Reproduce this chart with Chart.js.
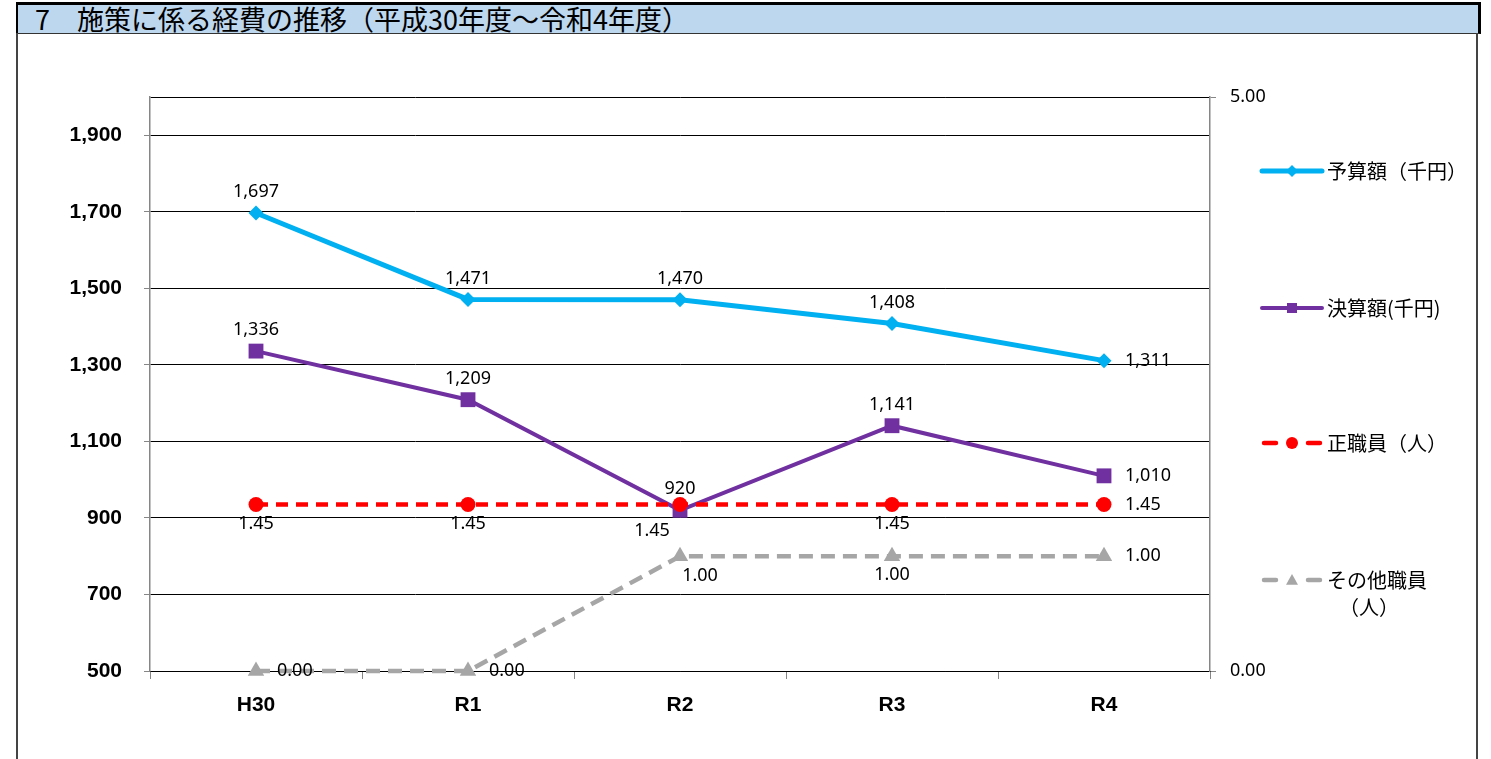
<!DOCTYPE html>
<html lang="ja">
<head>
<meta charset="utf-8">
<title>施策に係る経費の推移</title>
<script src="https://cdn.jsdelivr.net/npm/chart.js@4.4.1/dist/chart.umd.min.js"></script>
<style>
  html, body { margin: 0; padding: 0; background: #fff; }
  body { width: 1491px; height: 759px; position: relative; overflow: hidden; }
  .title {
    position: absolute; left: 16px; top: 2px; width: 1465px; height: 32px;
    box-sizing: border-box; background: #bdd7ee;
    border-top: 3px solid #000; border-right: 3px solid #000;
    border-left: 2px solid #000; border-bottom: 1px solid #333;
    font: 400 27px "Noto Sans CJK JP", sans-serif; line-height: 27px;
    padding-left: 17px; color: #000; white-space: nowrap;
  }
  .frame-l, .frame-r { position: absolute; top: 33px; bottom: 0; width: 2px; background: #444; }
  .frame-l { left: 16px; }
  .frame-r { left: 1476px; }
  #chart { position: absolute; left: 0; top: 0; }
</style>
</head>
<body>
<div class="title">7　施策に係る経費の推移（平成30年度～令和4年度）</div>
<div class="frame-l"></div>
<div class="frame-r"></div>
<canvas id="chart" width="1491" height="759"></canvas>
<script>
const years = ['H30', 'R1', 'R2', 'R3', 'R4'];
const budget = [1697, 1471, 1470, 1408, 1311];        // 予算額（千円）
const settled = [1336, 1209, 920, 1141, 1010];        // 決算額（千円）
const regularStaff = [1.45, 1.45, 1.45, 1.45, 1.45];  // 正職員（人）
const otherStaff = [0, 0, 1, 1, 1];                   // その他職員（人）
const leftTicks = [500, 700, 900, 1100, 1300, 1500, 1700, 1900, 2000];
const rightTicks = [0, 5];

// where each value label sits next to its point
const budgetPos = ['top', 'top', 'top', 'top', 'right'];
const settledPos = ['top', 'top', 'top', 'top', 'right'];
const regularPos = ['bottom', 'bottom', 'bottomLeft', 'bottom', 'right'];
const otherPos = ['right', 'right', 'bottomRight', 'bottom', 'right'];

const numFont = '"Noto Sans", sans-serif';
const jpFont = '"Noto Sans CJK JP", sans-serif';

function marker(ctx, style, x, y, r, color) {
  ctx.fillStyle = color;
  ctx.beginPath();
  if (style === 'rectRot') {
    ctx.moveTo(x, y - r); ctx.lineTo(x + r, y); ctx.lineTo(x, y + r); ctx.lineTo(x - r, y);
  } else if (style === 'rect') {
    ctx.rect(x - r, y - r, 2 * r, 2 * r);
  } else if (style === 'circle') {
    ctx.arc(x, y, r, 0, Math.PI * 2);
  } else if (style === 'triangle') {
    ctx.moveTo(x, y - r); ctx.lineTo(x + r, y + r * 0.8); ctx.lineTo(x - r, y + r * 0.8);
  }
  ctx.closePath();
  ctx.fill();
}

const valueLabels = {
  id: 'valueLabels',
  afterDatasetsDraw(chart) {
    const ctx = chart.ctx;
    ctx.save();
    ctx.font = '18px ' + numFont;
    ctx.fillStyle = '#000';
    chart.data.datasets.forEach((ds, di) => {
      chart.getDatasetMeta(di).data.forEach((pt, i) => {
        const v = ds.data[i];
        const txt = ds.yAxisID === 'y1' ? v.toFixed(2) : v.toLocaleString('en-US');
        let x = pt.x, y = pt.y;
        ctx.textAlign = 'center';
        ctx.textBaseline = 'middle';
        switch (ds.labelPos[i]) {
          case 'top': y -= 21; break;
          case 'bottom': y += 19; break;
          case 'right': x += 21; ctx.textAlign = 'left'; break;
          case 'bottomLeft': x -= 28; y += 26; break;
          case 'bottomRight': x += 20; y += 20; break;
        }
        ctx.fillText(txt, x, y);
      });
    });
    ctx.restore();
  }
};

const sideLegend = {
  id: 'sideLegend',
  afterDraw(chart) {
    const ctx = chart.ctx;
    const rows = [171, 308, 443, 580];
    const x0 = 1262, x1 = 1322, tx = 1327;
    ctx.save();
    chart.data.datasets.forEach((ds, i) => {
      const y = rows[i];
      ctx.strokeStyle = ds.borderColor;
      ctx.lineWidth = ds.borderWidth;
      ctx.lineCap = 'round';
      ctx.beginPath();
      if (ds.borderDash) {
        ctx.moveTo(x0 + 2, y); ctx.lineTo(x0 + 14, y);
        ctx.moveTo(x1 - 14, y); ctx.lineTo(x1 - 2, y);
      } else {
        ctx.moveTo(x0, y); ctx.lineTo(x1, y);
      }
      ctx.stroke();
      marker(ctx, ds.pointStyle, (x0 + x1) / 2, y, ds.pointStyle === 'rect' ? 5 : 6, ds.borderColor);

      ctx.fillStyle = '#000';
      ctx.font = '20px ' + jpFont;
      ctx.textAlign = 'left';
      ctx.textBaseline = 'middle';
      const label = ds.label;
      if (ctx.measureText(label).width > 140 && label.indexOf('（') > 0) {
        const k = label.indexOf('（');
        const a = label.slice(0, k), b = label.slice(k);
        ctx.fillText(a, tx, y);
        ctx.textAlign = 'center';
        ctx.fillText(b, tx + ctx.measureText(a).width / 2 - 8, y + 27);
      } else {
        ctx.fillText(label, tx, y);
      }
    });
    ctx.restore();
  }
};

new Chart(document.getElementById('chart'), {
  type: 'line',
  data: {
    labels: years,
    datasets: [
      {
        label: '予算額（千円）', data: budget, yAxisID: 'y', labelPos: budgetPos,
        borderColor: '#00b0f0', backgroundColor: '#00b0f0', borderWidth: 5,
        pointStyle: 'rectRot', pointRadius: 7.5, pointBorderWidth: 0, order: 4, clip: false
      },
      {
        label: '決算額(千円)', data: settled, yAxisID: 'y', labelPos: settledPos,
        borderColor: '#7030a0', backgroundColor: '#7030a0', borderWidth: 4,
        pointStyle: 'rect', pointRadius: 10.5, pointBorderWidth: 0, order: 3, clip: false
      },
      {
        label: '正職員（人）', data: regularStaff, yAxisID: 'y1', labelPos: regularPos,
        borderColor: '#ff0000', backgroundColor: '#ff0000', borderWidth: 4.5, borderDash: [12, 8],
        pointStyle: 'circle', pointRadius: 7.5, pointBorderWidth: 0, order: 2, clip: false
      },
      {
        label: 'その他職員（人）', data: otherStaff, yAxisID: 'y1', labelPos: otherPos,
        borderColor: '#a6a6a6', backgroundColor: '#a6a6a6', borderWidth: 4.5, borderDash: [14, 8],
        pointStyle: 'triangle', pointRadius: 9.5, pointBorderWidth: 0, order: 1, clip: false
      }
    ]
  },
  options: {
    responsive: false,
    animation: false,
    devicePixelRatio: 1,
    layout: { padding: { top: 97, left: 0, right: 0, bottom: 0 } },
    plugins: { legend: { display: false }, tooltip: { enabled: false } },
    elements: { line: { tension: 0 } },
    scales: {
      x: {
        offset: true,
        afterFit: s => { s.height = 88; },
        grid: { offset: true, drawOnChartArea: false, drawTicks: true, tickLength: 8, color: '#868686' },
        border: { color: '#000', width: 1 },
        ticks: { color: '#000', padding: 14, font: { family: '"Liberation Sans", sans-serif', size: 21, weight: 'bold' } }
      },
      y: {
        position: 'left', min: 500, max: 2000,
        afterFit: s => { s.width = 150; },
        afterBuildTicks: s => { s.ticks = leftTicks.map(v => ({ value: v })); },
        grid: {
          color: '#000', lineWidth: 1, tickLength: 6,
          tickColor: c => (c.tick && c.tick.value === 2000) ? 'rgba(0,0,0,0)' : '#868686'
        },
        border: { color: '#868686', width: 1.5 },
        ticks: {
          color: '#000', padding: 22,
          font: { family: '"Liberation Sans", sans-serif', size: 21, weight: 'bold' },
          callback: v => v === 2000 ? '' : v.toLocaleString('en-US')
        }
      },
      y1: {
        position: 'right', min: 0, max: 5,
        afterFit: s => { s.width = 281; },
        afterBuildTicks: s => { s.ticks = rightTicks.map(v => ({ value: v })); },
        grid: { drawOnChartArea: false, tickLength: 6, color: '#868686' },
        border: { color: '#868686', width: 1.5 },
        ticks: { color: '#000', padding: 14, font: { family: numFont, size: 18 }, callback: v => v.toFixed(2) }
      }
    }
  },
  plugins: [valueLabels, sideLegend]
});
</script>
</body>
</html>
